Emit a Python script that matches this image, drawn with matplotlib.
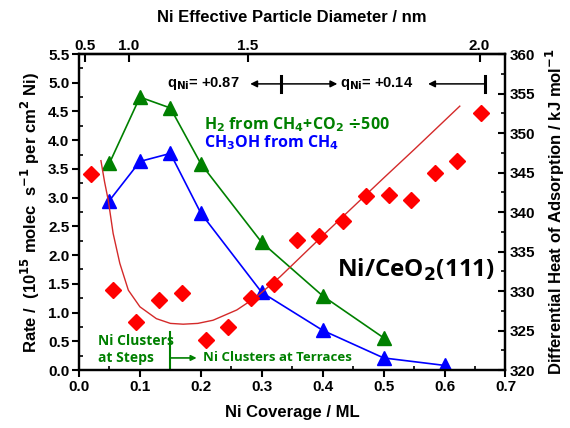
import numpy as np
import matplotlib
matplotlib.use("Agg")
import matplotlib.pyplot as plt
from matplotlib.ticker import MultipleLocator

# --- data ---
cov_rate = [0.05, 0.10, 0.15, 0.20, 0.30, 0.40, 0.50]
h2_rate = [3.60, 4.75, 4.56, 3.59, 2.22, 1.29, 0.56]

cov_meoh = [0.05, 0.10, 0.15, 0.20, 0.30, 0.40, 0.50, 0.60]
meoh_rate = [2.95, 3.63, 3.77, 2.73, 1.35, 0.69, 0.21, 0.08]

cov_heat = [0.019, 0.056, 0.094, 0.132, 0.169, 0.208, 0.245, 0.283, 0.320,
            0.357, 0.394, 0.433, 0.471, 0.508, 0.545, 0.584, 0.621, 0.660]
heat = [344.8, 330.1, 326.1, 328.9, 329.7, 323.8, 325.4, 329.1, 330.9,
        336.5, 337.0, 338.8, 342.0, 342.2, 341.5, 344.9, 346.5, 352.5]

# fitted guide line drawn through the heat data
fit_cov = [0.036, 0.042, 0.048, 0.056, 0.067, 0.081, 0.100, 0.127, 0.150, 0.171,
           0.195, 0.220, 0.259, 0.292, 0.330, 0.400, 0.500, 0.550, 0.625]
fit_heat = [346.5, 343.8, 341.5, 337.3, 333.5, 330.1, 328.0, 326.5, 325.9, 325.8,
            325.9, 326.3, 327.6, 329.3, 331.8, 337.0, 344.3, 347.9, 353.4]

diam_ticks = [0.5, 1.0, 1.5, 2.0]
k_diam = 2.3  # d = k * coverage^(1/3)

GREEN = "#008000"
BLUE = "#0000FF"
RED = "#FF0000"
AXFONT = "Liberation Sans"
TXTFONT = "Open Sans"

plt.rcParams["font.family"] = AXFONT
plt.rcParams["font.weight"] = "bold"

fig = plt.figure(figsize=(5.7, 4.28), dpi=100)
ax = fig.add_axes([0.1386, 0.1355, 0.7482, 0.7383])
ax2 = ax.twinx()

ax.plot(cov_rate, h2_rate, "-^", color=GREEN, ms=9.5, lw=1.2, zorder=3)
ax.plot(cov_meoh, meoh_rate, "-^", color=BLUE, ms=9.5, lw=1.2, zorder=3)

ax2.plot(fit_cov, fit_heat, "-", color="#D42A2A", lw=1.0)
ax2.plot(cov_heat, heat, "D", color=RED, ms=7.8, ls="none")

ax.set_xlim(0, 0.7)
ax.set_ylim(0, 5.5)
ax2.set_ylim(320, 360)

ax.xaxis.set_major_locator(MultipleLocator(0.1))
ax.xaxis.set_minor_locator(MultipleLocator(0.05))
ax.yaxis.set_major_locator(MultipleLocator(0.5))
ax.yaxis.set_minor_locator(MultipleLocator(0.25))
ax2.yaxis.set_major_locator(MultipleLocator(5))
ax2.yaxis.set_minor_locator(MultipleLocator(2.5))

for a in (ax, ax2):
    for s in a.spines.values():
        s.set_linewidth(1.6)
ax.tick_params(axis="both", which="major", direction="out", length=5, width=1.5,
               labelsize=11, pad=2)
ax.tick_params(axis="both", which="minor", direction="in", length=3, width=1.2)
ax2.tick_params(axis="y", which="major", direction="in", length=5, width=1.5,
                labelsize=11, pad=3)
ax2.tick_params(axis="y", which="minor", direction="in", length=3, width=1.2)
ax.set_xticklabels([f"{v:.1f}" for v in ax.get_xticks()])
ax.set_yticklabels([f"{v:.1f}" for v in ax.get_yticks()])

ax.set_xlabel("Ni Coverage / ML", fontsize=12, fontweight="bold", labelpad=8)
ax.set_ylabel(r"Rate /  (10$^{\mathbf{15}}$ molec  s$^{\mathbf{-1}}$ per cm$^{\mathbf{2}}$ Ni)",
              fontsize=12, fontweight="bold", labelpad=4)
ax2.set_ylabel(r"Differential Heat of Adsorption / kJ mol$^{\mathbf{-1}}$",
               fontsize=12, fontweight="bold", labelpad=6)

# top axis: effective particle diameter
top = ax.secondary_xaxis("top", functions=(lambda c: k_diam * np.cbrt(c),
                                           lambda d: (np.asarray(d) / k_diam) ** 3))
top.set_xticks(diam_ticks)
top.set_xticklabels([f"{v:.1f}" for v in diam_ticks])
top.tick_params(direction="in", length=6, width=1.5, labelsize=11, pad=1)
top.spines["top"].set_linewidth(1.6)
top.set_xlabel("Ni Effective Particle Diameter / nm", fontsize=12,
               fontweight="bold", labelpad=12)

# charge annotations along the top
qy = 4.98
ax.text(0.144, qy, r"q$_{\mathbf{Ni}}$= +0.87", fontsize=10.5, fontweight="bold",
        va="center", ha="left")
ax.text(0.428, qy, r"q$_{\mathbf{Ni}}$= +0.14", fontsize=10.5, fontweight="bold",
        va="center", ha="left")
arrow = dict(arrowstyle="-|>", color="black", lw=1.1, mutation_scale=10,
             shrinkA=0, shrinkB=0)
ax.annotate("", xy=(0.281, qy), xytext=(0.331, qy), arrowprops=arrow)
ax.annotate("", xy=(0.424, qy), xytext=(0.331, qy), arrowprops=arrow)
ax.annotate("", xy=(0.573, qy), xytext=(0.667, qy), arrowprops=arrow)
ax.plot([0.331, 0.331], [qy - 0.14, qy + 0.14], color="black", lw=2.2)
ax.plot([0.667, 0.667], [qy - 0.14, qy + 0.14], color="black", lw=2.2)

# series labels
ax.text(0.205, 4.27, r"H$_\mathbf{2}$ from CH$_\mathbf{4}$+CO$_\mathbf{2}$ $\mathbf{\div}$500",
        color=GREEN, fontsize=11.5, family=TXTFONT, fontweight="bold", va="center")
ax.text(0.205, 3.95, r"CH$_\mathbf{3}$OH from CH$_\mathbf{4}$", color=BLUE,
        fontsize=11.5, family=TXTFONT, fontweight="bold", va="center")
ax.text(0.553, 1.74, r"Ni/CeO$_\mathbf{2}$(111)", color="black", fontsize=17.5,
        family=TXTFONT, fontweight="bold", va="center", ha="center")

# steps / terraces marker
ax.plot([0.150, 0.150], [0, 0.67], color=GREEN, lw=1.5)
ax.text(0.031, 0.36, "Ni Clusters\nat Steps", color=GREEN, fontsize=10,
        family=TXTFONT, fontweight="bold", va="center", ha="left",
        linespacing=1.25)
ax.annotate("", xy=(0.193, 0.21), xytext=(0.150, 0.21),
            arrowprops=dict(arrowstyle="-|>", color=GREEN, lw=1.2,
                            mutation_scale=8, shrinkA=0, shrinkB=0))
ax.text(0.204, 0.21, "Ni Clusters at Terraces", color=GREEN, fontsize=9.5,
        family=TXTFONT, fontweight="bold", va="center", ha="left")

fig.savefig("out.png", dpi=100)
